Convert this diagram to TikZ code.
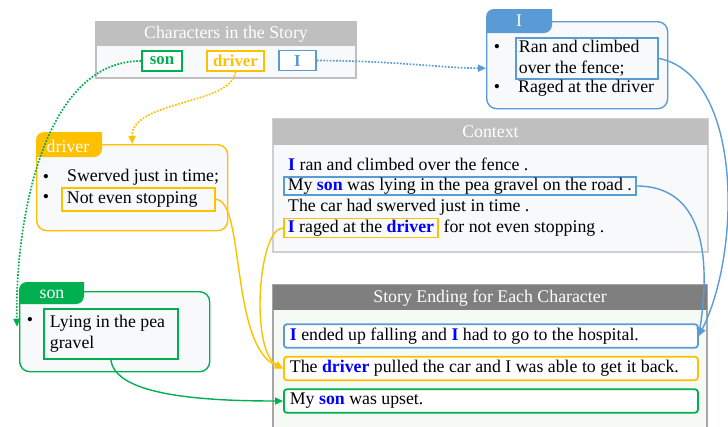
\documentclass[tikz,border=0pt]{standalone}
\usepackage{fontspec}
\setmainfont{Liberation Serif}
\usetikzlibrary{arrows.meta}
\definecolor{cblue}{HTML}{5B9BD5}
\definecolor{corange}{HTML}{FFC000}
\definecolor{cgreen}{HTML}{00B050}
\definecolor{hblue}{HTML}{0000FF}
\definecolor{lgray}{HTML}{BFBFBF}
\definecolor{dgray}{HTML}{7F7F7F}
\definecolor{bordgray}{HTML}{D0D0D0}
\definecolor{endgray}{HTML}{A6A6A6}
\definecolor{boxfill}{HTML}{F8F9FB}
\definecolor{endfill}{HTML}{F5FAF5}
\newcommand{\hlw}[1]{\textcolor{hblue}{\textbf{#1}}}
\newcommand{\mylbox}[2]{\parbox{#1}{\raggedright #2}}
\begin{document}
\begin{tikzpicture}[x=1pt,y=-1pt,
  bodyfont/.style={font=\fontsize{17.8}{21}\selectfont},
  txt/.style={bodyfont, inner sep=0pt, anchor=west},
  headtxt/.style={font=\fontsize{17.8}{21}\selectfont, text=white, inner sep=0pt},
  tagbox/.style={draw, line width=1.8pt, fill=white, inner sep=0pt, minimum height=20,
     font=\fontsize{16.8}{20}\selectfont\bfseries},
  mainbox/.style={draw, line width=1.4pt, fill=boxfill, rounded corners=10pt, anchor=north west, inner sep=0pt},
  ibox/.style={draw, line width=1.8pt, bodyfont, anchor=north west, inner ysep=0pt},
  rowbox/.style={draw, line width=1.8pt, rounded corners=3pt, fill=white, bodyfont, anchor=west,
     minimum width=414, minimum height=23.5, inner xsep=6pt, inner ysep=0pt},
  conn/.style={line width=1.4pt, -{Triangle[length=8pt,width=7pt]}},
  dotconn/.style={line width=1.7pt, dash pattern=on 1.7pt off 1.5pt, -{Triangle[length=8pt,width=7pt]}}
]
\useasboundingbox (0,0) rectangle (728,426);

% Characters in the Story
\fill[boxfill] (96,46) rectangle (356,78);
\fill[lgray] (96,22) rectangle (356,46);
\draw[lgray, line width=1.2pt] (96,22) rectangle (356,78);
\node[headtxt] (chartitle) at (226,34) {Characters in the Story};
\node[tagbox, draw=cgreen, text=cgreen, minimum width=40] (tson) at (162,61) {son};
\node[tagbox, draw=corange, text=corange, minimum width=57] (tdriver) at (235.5,61) {driver};
\node[tagbox, draw=cblue, text=cblue, minimum width=37] (tI) at (297.5,60.5) {I};

% I box
\node[mainbox, draw=cblue, minimum width=181, minimum height=87] (Ibox) at (486,21) {};
\fill[cblue] (486,33) [rounded corners=8pt] -- (486,9) [sharp corners] -- (552,9) [rounded corners=8pt] -- (552,33) [sharp corners] -- cycle;
\node[headtxt] (Itab) at (519,21) {I};
\node[txt, anchor=center] (Ib1) at (497,48) {•};
\node[txt, anchor=center] (Ib2) at (497,88) {•};
\node[ibox, draw=cblue, minimum width=142, minimum height=41, inner xsep=3pt] (ran) at (515,37) {\mylbox{136pt}{Ran and climbed\\over the fence;}};
\node[txt] (raged) at (518,88) {Raged at the driver};

% driver box
\node[mainbox, draw=corange, minimum width=191, minimum height=86] (driverbox) at (36,144) {};
\fill[corange] (36,157) [rounded corners=8pt] -- (36,132) [sharp corners] -- (102,132) [rounded corners=8pt] -- (102,157) [sharp corners] -- cycle;
\node[headtxt] (drivertab) at (68,146) {driver};
\node[txt, anchor=center] (Db1) at (46,178) {•};
\node[txt, anchor=center] (Db2) at (46,198) {•};
\node[txt] (swerved) at (67,177) {Swerved just in time;};
\node[ibox, draw=corange, minimum width=153, minimum height=23, inner xsep=5pt] (stop) at (61,187) {\makebox[143pt][l]{Not even stopping}};

% son box
\node[mainbox, draw=cgreen, minimum width=190, minimum height=80] (sonbox) at (19,291) {};
\fill[cgreen] (19,304) [rounded corners=8pt] -- (19,282) [sharp corners] -- (84,282) [rounded corners=8pt] -- (84,304) [sharp corners] -- cycle;
\node[headtxt] (sontab) at (52,294) {son};
\node[txt, anchor=center] (Sb1) at (30,321) {•};
\node[ibox, draw=cgreen, minimum width=134, minimum height=50, inner xsep=6pt] (lying) at (43,308) {\mylbox{122pt}{Lying in the pea\\gravel}};

% Context
\fill[boxfill] (273,145) rectangle (708,252);
\draw[bordgray, line width=1.2pt] (273,119) rectangle (708,252);
\fill[lgray] (273,119) rectangle (708,145);
\node[headtxt] (ctxtitle) at (490.5,132) {Context};
\node[txt] (c1) at (288,164) {\hlw{I} ran and climbed over the fence .};
\node[draw=cblue, line width=1.6pt, bodyfont, anchor=west, inner xsep=4pt, inner ysep=0pt, minimum height=18] (c2) at (283,186) {My \hlw{son} was lying in the pea gravel on the road .};
\node[txt] (c3) at (288,207) {The car had swerved just in time .};
\node[draw=corange, line width=1.6pt, bodyfont, anchor=west, inner xsep=4pt, inner ysep=0pt, minimum height=19] (c4) at (283,228) {\hlw{I} raged at the \hlw{driver}};
\node[txt, xshift=4.5pt] (c4b) at (c4.east) {for not even stopping .};

% Story Ending
\fill[endfill] (273,310) rectangle (707,430);
\draw[endgray, line width=1.2pt] (273,430) -- (273,285) -- (707,285) -- (707,430);
\fill[dgray] (273,285) rectangle (707,310);
\node[headtxt] (endtitle) at (490,298) {Story Ending for Each Character};
\node[rowbox, draw=cblue] (endI) at (283,336) {\makebox[402pt][l]{\hlw{I} ended up falling and \hlw{I} had to go to the hospital.}};
\node[rowbox, draw=corange] (endD) at (283,368.5) {\makebox[402pt][l]{The \hlw{driver} pulled the car and I was able to get it back.}};
\node[rowbox, draw=cgreen] (endS) at (283,401) {\makebox[402pt][l]{My \hlw{son} was upset.}};

% connectors
\draw[dotconn, cgreen] (tson.west) .. controls (40,61) and (15,230) .. ([xshift=-2pt,yshift=5pt]sonbox.west);
\draw[dotconn, corange] (tdriver.south) .. controls (232,105) and (131.5,100) .. (driverbox.north);
\draw[dotconn, cblue] (tI.east) .. controls (400,61) and (440,68) .. ([yshift=-3pt]Ibox.west);
\draw[conn, cblue] (ran.east) .. controls (742,75) and (742,250) .. (endI.east);
\draw[conn, cblue] (c2.east) .. controls (700,186) and (712,250) .. (endI.east);
\draw[conn, corange] (stop.east) .. controls (245,200) and (230,345) .. (endD.west);
\draw[conn, corange] (c4.west) .. controls (258,228) and (250,350) .. (endD.west);
\draw[conn, cgreen] (lying.south) .. controls (115,395) and (200,401) .. (endS.west);
\end{tikzpicture}
\end{document}
